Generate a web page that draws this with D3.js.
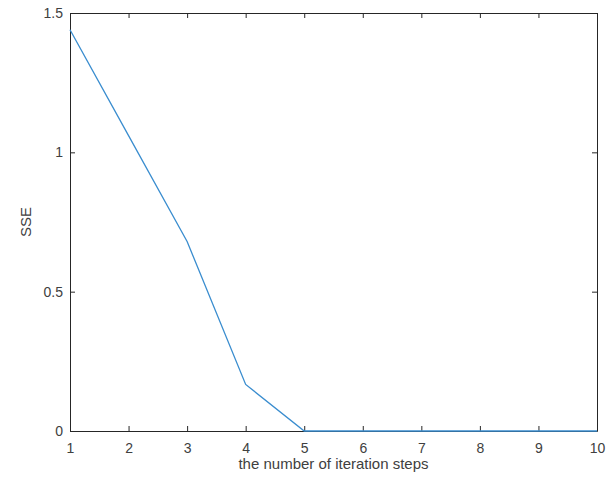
<!DOCTYPE html>
<html>
<head>
<meta charset="utf-8">
<script src="https://cdn.jsdelivr.net/npm/d3@7"></script>
<style>
  body { margin: 0; background: #fff; }
  text { font-family: "Liberation Sans", Arial, sans-serif; }
</style>
</head>
<body>
<svg id="chart" width="616" height="486"></svg>
<script>
// iteration steps and the SSE at each step
var steps = [1, 2, 3, 4, 5, 6, 7, 8, 9, 10];
var sse = [1.44, 1.06, 0.68, 0.167, 0, 0, 0, 0, 0, 0];
var xTicks = [1, 2, 3, 4, 5, 6, 7, 8, 9, 10];
var yTicks = [0, 0.5, 1, 1.5];

var margin = { top: 13, right: 19, bottom: 55, left: 70 };
var width = 616 - margin.left - margin.right;
var height = 486 - margin.top - margin.bottom;

var svg = d3.select("#chart");
var g = svg.append("g")
  .attr("transform", "translate(" + margin.left + "," + margin.top + ")");

var x = d3.scaleLinear().domain([1, 10]).range([0, width]);
var y = d3.scaleLinear().domain([0, 1.5]).range([height, 0]);

var axisColor = "#262626";
var labelColor = "#404040";

// box axes with inward ticks (matlab style)
function styleAxis(sel, showText) {
  sel.select(".domain").attr("stroke", axisColor).attr("stroke-width", 1);
  sel.selectAll(".tick line").attr("stroke", axisColor);
  sel.selectAll(".tick text")
    .attr("fill", labelColor)
    .style("font-size", "14px")
    .style("display", showText ? null : "none");
}

g.append("g")
  .attr("transform", "translate(0," + height + ")")
  .call(d3.axisBottom(x).tickValues(xTicks).tickSizeInner(-5).tickSizeOuter(0).tickPadding(12))
  .call(styleAxis, true);

g.append("g")
  .call(d3.axisTop(x).tickValues(xTicks).tickSizeInner(-5).tickSizeOuter(0))
  .call(styleAxis, false);

g.append("g")
  .call(d3.axisLeft(y).tickValues(yTicks).tickFormat(d3.format("")).tickSizeInner(-5).tickSizeOuter(0).tickPadding(7))
  .call(styleAxis, true);

g.append("g")
  .attr("transform", "translate(" + width + ",0)")
  .call(d3.axisRight(y).tickValues(yTicks).tickSizeInner(-5).tickSizeOuter(0))
  .call(styleAxis, false);

svg.selectAll("g").attr("font-family", null);

// the sse line
var line = d3.line()
  .x(function (d, i) { return x(steps[i]); })
  .y(function (d) { return y(d); });

g.append("path")
  .datum(sse)
  .attr("d", line)
  .attr("fill", "none")
  .attr("stroke", "#3a8dcf")
  .attr("stroke-width", 1.3);

// axis titles
g.append("text")
  .attr("x", width / 2)
  .attr("y", height + 38)
  .attr("text-anchor", "middle")
  .attr("fill", labelColor)
  .style("font-size", "15px")
  .text("the number of iteration steps");

g.append("text")
  .attr("transform", "translate(-39," + height / 2 + ") rotate(-90)")
  .attr("text-anchor", "middle")
  .attr("fill", labelColor)
  .style("font-size", "15px")
  .text("SSE");
</script>
</body>
</html>
